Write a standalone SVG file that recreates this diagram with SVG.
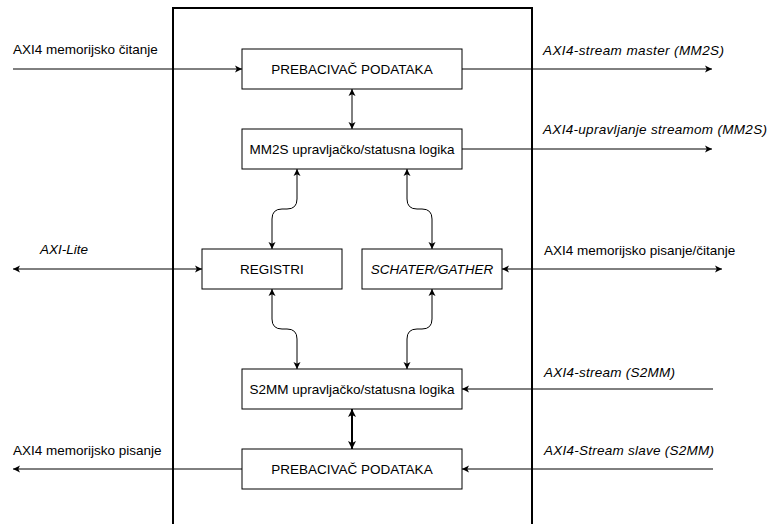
<svg xmlns="http://www.w3.org/2000/svg" width="769" height="524" viewBox="0 0 769 524">
<style>
.box{fill:#fff;stroke:#000;stroke-width:1}
.t{font-family:"Liberation Sans",Arial,sans-serif;font-size:13.5px;fill:#000}
.c{text-anchor:middle}
.i{font-style:italic}
.w{fill:none;stroke:#000;stroke-width:1}
.w2{fill:none;stroke:#000;stroke-width:2}
</style>
<defs>
<marker id="a" markerWidth="10" markerHeight="10" refX="7" refY="5" orient="auto-start-reverse" markerUnits="userSpaceOnUse" viewBox="0 0 10 10">
<path d="M0,1.5 L7,5 L0,8.5 L1.75,5 Z" fill="#000"/>
</marker>
<marker id="b" markerWidth="12" markerHeight="12" refX="8" refY="6" orient="auto-start-reverse" markerUnits="userSpaceOnUse" viewBox="0 0 12 12">
<path d="M0,2 L8,6 L0,10 L2,6 Z" fill="#000"/>
</marker>
</defs>
<rect id="boundary" x="173" y="8" width="359" height="530" fill="none" stroke="#000" stroke-width="2"/>
<g id="n1"><rect class="box" x="242" y="49" width="220" height="40"/><text class="t c" x="352" y="74">PREBACIVAČ PODATAKA</text></g>
<g id="n2"><rect class="box" x="242" y="129" width="220" height="40"/><text class="t c" x="352" y="154">MM2S upravljačko/statusna logika</text></g>
<g id="n3"><rect class="box" x="202" y="249" width="140" height="40"/><text class="t c" x="272" y="274">REGISTRI</text></g>
<g id="n4"><rect class="box" x="362" y="249" width="140" height="40"/><text class="t c i" x="432" y="274">SCHATER/GATHER</text></g>
<g id="n5"><rect class="box" x="242" y="369" width="220" height="40"/><text class="t c" x="352" y="394">S2MM upravljačko/statusna logika</text></g>
<g id="n6"><rect class="box" x="242" y="449" width="220" height="40"/><text class="t c" x="352" y="474">PREBACIVAČ PODATAKA</text></g>
<g id="connectors">
<path class="w" d="M13,69 L242,69" marker-end="url(#a)"/>
<path class="w" d="M352,89 L352,129" marker-start="url(#a)" marker-end="url(#a)"/>
<path class="w" d="M462,69 L712,69" marker-end="url(#a)"/>
<path class="w" d="M462,149 L712,149" marker-end="url(#a)"/>
<path class="w" d="M297,169 L297,199 Q297,209 287,209 L282,209 Q272,209 272,219 L272,249" marker-start="url(#a)" marker-end="url(#a)"/>
<path class="w" d="M407,169 L407,199 Q407,209 417,209 L422,209 Q432,209 432,219 L432,249" marker-start="url(#a)" marker-end="url(#a)"/>
<path class="w" d="M272,289 L272,319 Q272,329 282,329 L287,329 Q297,329 297,339 L297,369" marker-start="url(#a)" marker-end="url(#a)"/>
<path class="w" d="M432,289 L432,319 Q432,329 422,329 L417,329 Q407,329 407,339 L407,369" marker-start="url(#a)" marker-end="url(#a)"/>
<path class="w" d="M13,269 L202,269" marker-start="url(#a)" marker-end="url(#a)"/>
<path class="w" d="M502,269 L722,269" marker-start="url(#a)" marker-end="url(#a)"/>
<path class="w" d="M713,389 L462,389" marker-end="url(#a)"/>
<path class="w2" d="M352,409 L352,449" marker-start="url(#b)" marker-end="url(#b)"/>
<path class="w" d="M713,469 L462,469" marker-end="url(#a)"/>
<path class="w" d="M242,469 L13,469" marker-end="url(#a)"/>
</g>
<g id="labels">
<text class="t" x="13" y="54">AXI4 memorijsko čitanje</text>
<text class="t i" x="543" y="55" textLength="181" lengthAdjust="spacing">AXI4-stream master (MM2S)</text>
<text class="t i" x="543" y="134" textLength="224" lengthAdjust="spacing">AXI4-upravljanje streamom (MM2S)</text>
<text class="t i" x="40" y="254">AXI-Lite</text>
<text class="t" x="544" y="255">AXI4 memorijsko pisanje/čitanje</text>
<text class="t i" x="544" y="377" textLength="131" lengthAdjust="spacing">AXI4-stream (S2MM)</text>
<text class="t i" x="544" y="455" textLength="170" lengthAdjust="spacing">AXI4-Stream slave (S2MM)</text>
<text class="t" x="13" y="455">AXI4 memorijsko pisanje</text>
</g>
</svg>
